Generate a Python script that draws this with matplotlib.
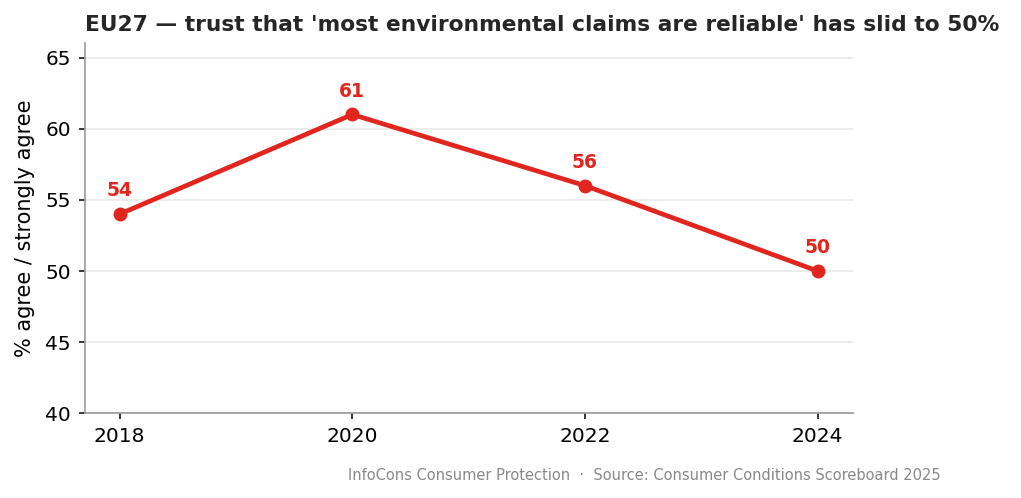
import matplotlib
matplotlib.use("Agg")
import matplotlib.pyplot as plt

plt.rcParams["font.family"] = ["DejaVu Sans"]

years = [2018, 2020, 2022, 2024]
trust = [54, 61, 56, 50]

red = "#e0261f"

fig, ax = plt.subplots(figsize=(10.21, 4.98), dpi=100)
fig.subplots_adjust(left=0.083, right=0.835, top=0.913, bottom=0.17)

ax.plot(years, trust, color=red, linewidth=3.4, marker="o", markersize=9, zorder=3)
for x, y in zip(years, trust):
    ax.annotate(str(y), (x, y), xytext=(0, 10), textcoords="offset points",
                ha="center", va="bottom", color=red, fontsize=13.5, fontweight="bold")

ax.set_ylim(40, 66)
ax.set_yticks([40, 45, 50, 55, 60, 65])
ax.set_xticks(years)
ax.tick_params(labelsize=14.5, length=4.5, width=1.1, pad=5.5)
ax.set_ylabel("% agree / strongly agree", fontsize=15, labelpad=7)
ax.grid(axis="y", color="#ebebeb", linewidth=1.3)
ax.set_axisbelow(True)
for s in ["top", "right"]:
    ax.spines[s].set_visible(False)
for s in ["left", "bottom"]:
    ax.spines[s].set_color("#999999")
    ax.spines[s].set_linewidth(1.2)

ax.set_title("EU27 — trust that 'most environmental claims are reliable' has slid to 50%",
             loc="left", fontsize=15.7, fontweight="bold", color="#262626", pad=9)

fig.text(0.921, 0.045, "InfoCons Consumer Protection  ·  Source: Consumer Conditions Scoreboard 2025",
         ha="right", va="center", fontsize=10.5, color="#888888")

fig.savefig("out.png", dpi=100)
